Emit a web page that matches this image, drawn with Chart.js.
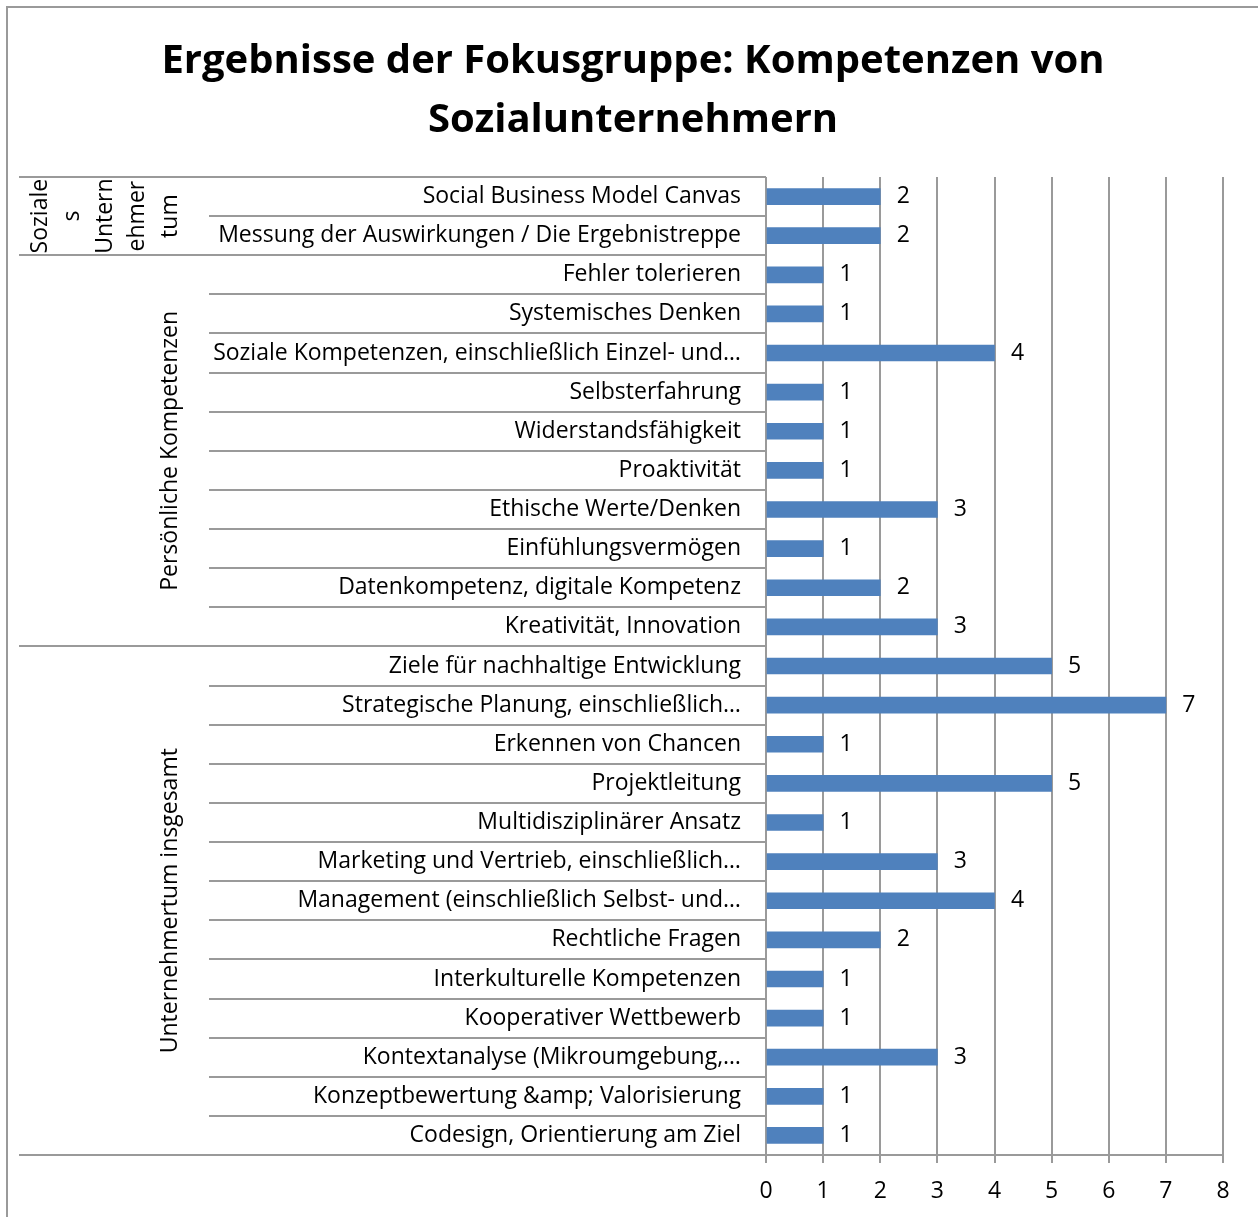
<!DOCTYPE html>
<html>
<head>
<meta charset="utf-8">
<script src="https://cdn.jsdelivr.net/npm/chart.js@4"></script>
<style>
  html, body { margin: 0; padding: 0; background: #fff; }
  #wrap { position: relative; width: 1258px; height: 1217px; }
</style>
</head>
<body>
<div id="wrap"><canvas id="chart" width="1258" height="1217"></canvas></div>
<script>
// data, top to bottom as in the picture
const categories = [
  "Social Business Model Canvas",
  "Messung der Auswirkungen / Die Ergebnistreppe",
  "Fehler tolerieren",
  "Systemisches Denken",
  "Soziale Kompetenzen, einschließlich Einzel- und…",
  "Selbsterfahrung",
  "Widerstandsfähigkeit",
  "Proaktivität",
  "Ethische Werte/Denken",
  "Einfühlungsvermögen",
  "Datenkompetenz, digitale Kompetenz",
  "Kreativität, Innovation",
  "Ziele für nachhaltige Entwicklung",
  "Strategische Planung, einschließlich…",
  "Erkennen von Chancen",
  "Projektleitung",
  "Multidisziplinärer Ansatz",
  "Marketing und Vertrieb, einschließlich…",
  "Management (einschließlich Selbst- und…",
  "Rechtliche Fragen",
  "Interkulturelle Kompetenzen",
  "Kooperativer Wettbewerb",
  "Kontextanalyse (Mikroumgebung,…",
  "Konzeptbewertung &amp; Valorisierung",
  "Codesign, Orientierung am Ziel"
];
const values = [2, 2, 1, 1, 4, 1, 1, 1, 3, 1, 2, 3, 5, 7, 1, 5, 1, 3, 4, 2, 1, 1, 3, 1, 1];

// outer category groups (Excel wraps the first one into short lines)
const groupLabels = [
  ["Soziale", "s", "Untern", "ehmer", "tum"],
  ["Persönliche Kompetenzen"],
  ["Unternehmertum insgesamt"]
];
const groupSizes = [2, 10, 13];

const titleLines = ["Ergebnisse der Fokusgruppe: Kompetenzen von", "Sozialunternehmern"];
const xMin = 0, xMax = 8;

const FONT = "'Open Sans', 'Noto Sans', sans-serif";
const LINE = "#9a9a9a";
const PAD_LEFT = 43;
Chart.defaults.font.family = FONT;
Chart.defaults.color = "#000";

// frame, category separators and group labels
const groupPlugin = {
  id: "groups",
  beforeDraw(chart) {
    const c = chart.ctx;
    c.save();
    c.strokeStyle = LINE;
    c.lineWidth = 2;
    c.strokeRect(7, 7, 1300, 1300);
    c.restore();
  },
  afterDraw(chart) {
    const c = chart.ctx;
    const y = chart.scales.y;
    const left = chart.chartArea.left;
    const bounds = [0];
    groupSizes.forEach((s) => bounds.push(bounds[bounds.length - 1] + s));

    c.save();
    c.strokeStyle = LINE;
    c.lineWidth = 2;
    for (let i = 0; i <= categories.length; i++) {
      const py = Math.round(y.getPixelForValue(i - 0.5));
      const isGroup = bounds.includes(i);
      c.beginPath();
      c.moveTo(isGroup ? 19 : 209, py);
      c.lineTo(left, py);
      c.stroke();
    }

    c.fillStyle = "#000";
    c.font = "23px " + FONT;
    c.textAlign = "center";
    c.textBaseline = "middle";
    groupLabels.forEach((lines, g) => {
      const top = y.getPixelForValue(bounds[g] - 0.5);
      const bottom = y.getPixelForValue(bounds[g + 1] - 0.5);
      const cy = (top + bottom) / 2;
      lines.forEach((txt, k) => {
        const cx = 170 - (lines.length - 1 - k) * 32.5;
        c.save();
        c.translate(cx, cy);
        c.rotate(-Math.PI / 2);
        c.fillText(txt, 0, 0);
        c.restore();
      });
    });
    c.restore();
  },
  afterDatasetsDraw(chart) {
    const c = chart.ctx;
    const meta = chart.getDatasetMeta(0);
    c.save();
    c.fillStyle = "#000";
    c.font = "23px " + FONT;
    c.textAlign = "center";
    c.textBaseline = "middle";
    meta.data.forEach((bar, i) => {
      c.fillText(String(values[i]), bar.x + 23, bar.y);
    });
    c.restore();
  }
};

new Chart(document.getElementById("chart"), {
  type: "bar",
  data: {
    labels: categories,
    datasets: [{
      data: values,
      backgroundColor: "#4F81BD",
      barThickness: 16
    }]
  },
  options: {
    responsive: false,
    animation: false,
    devicePixelRatio: 1,
    indexAxis: "y",
    layout: { padding: { left: PAD_LEFT, right: 35, top: 0, bottom: 0 } },
    plugins: {
      legend: { display: false },
      tooltip: { enabled: false },
      title: {
        display: true,
        text: titleLines,
        color: "#000",
        font: { size: 40, weight: "bold", lineHeight: 1.475 },
        padding: { top: 32, bottom: 27 }
      }
    },
    scales: {
      x: {
        min: xMin,
        max: xMax,
        ticks: { stepSize: 1, font: { size: 23 }, padding: 15, color: "#000" },
        grid: { color: LINE, lineWidth: 2, tickLength: 8, drawTicks: true },
        border: { display: true, color: LINE, width: 2 },
        afterFit(scale) { scale.height = 62; }
      },
      y: {
        ticks: { font: { size: 23 }, padding: 25, autoSkip: false, color: "#000" },
        grid: { display: false, drawTicks: false },
        border: { display: false },
        afterFit(scale) { scale.width = 766 - PAD_LEFT; }
      }
    }
  },
  plugins: [groupPlugin]
});
</script>
</body>
</html>
